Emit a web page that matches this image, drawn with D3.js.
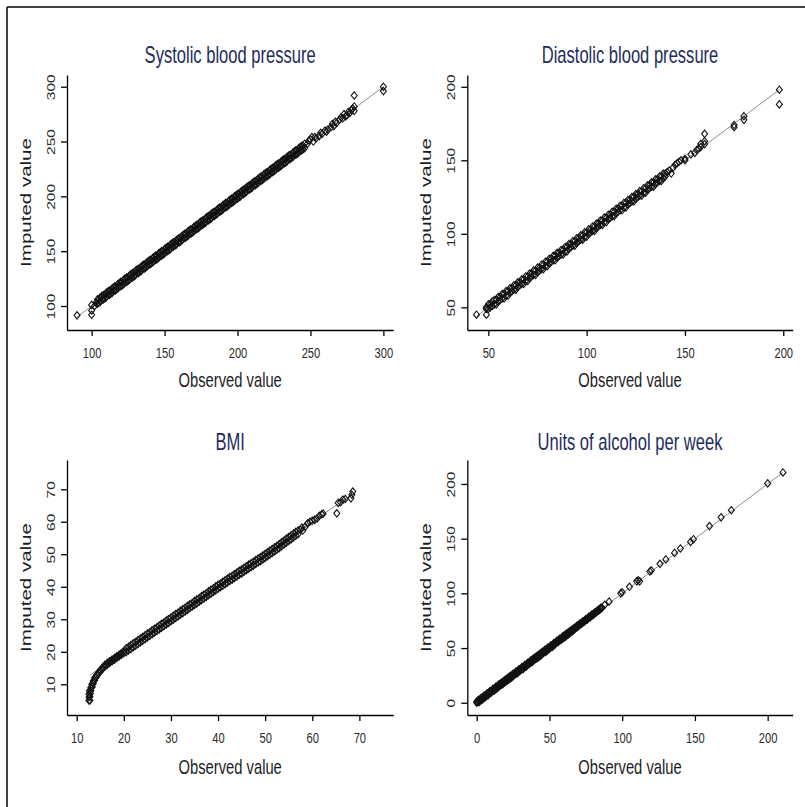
<!DOCTYPE html>
<html>
<head>
<meta charset="utf-8">
<script src="https://cdn.jsdelivr.net/npm/d3@7"></script>
<style>
body { margin: 0; background: #fff; }
svg { display: block; }
text { font-family: "Liberation Sans", Arial, sans-serif; }
</style>
</head>
<body>
<svg id="chart"></svg>
<script>

// dense parts: [observed, imputed draw 1, imputed draw 2]
// sparse parts: [observed, imputed]
var sbpDense = [
  [104,106,102],[105,106,103],[106,108,104],[107,109,106],[108,110,106],[109,110,107],[110,112,108],[111,113,110],[112,114,110],[113,114,111],
  [114,116,112],[115,117,114],[116,118,114],[117,118,115],[118,120,116],[119,121,118],[120,122,118],[121,122,119],[122,124,120],[123,125,122],
  [124,126,122],[125,126,123],[126,128,124],[127,129,126],[128,130,126],[129,130,127],[130,132,128],[131,133,130],[132,134,130],[133,134,131],
  [134,136,132],[135,137,134],[136,138,134],[137,138,135],[138,140,136],[139,141,138],[140,142,138],[141,142,139],[142,144,140],[143,145,142],
  [144,146,142],[145,146,143],[146,148,144],[147,149,146],[148,150,146],[149,150,147],[150,152,148],[151,153,150],[152,154,150],[153,154,151],
  [154,156,152],[155,157,154],[156,158,154],[157,158,155],[158,160,156],[159,161,158],[160,162,158],[161,162,159],[162,164,160],[163,165,162],
  [164,166,162],[165,166,163],[166,168,164],[167,169,166],[168,170,166],[169,170,167],[170,172,168],[171,173,170],[172,174,170],[173,174,171],
  [174,176,172],[175,177,174],[176,178,174],[177,178,175],[178,180,176],[179,181,178],[180,182,178],[181,182,179],[182,184,180],[183,185,182],
  [184,186,182],[185,186,183],[186,188,184],[187,189,186],[188,190,186],[189,190,187],[190,192,188],[191,193,190],[192,194,190],[193,194,191],
  [194,196,192],[195,197,194],[196,198,194],[197,198,195],[198,200,196],[199,201,198],[200,202,198],[201,202,199],[202,204,200],[203,205,202],
  [204,206,202],[205,206,203],[206,208,204],[207,209,206],[208,210,206],[209,210,207],[210,212,208],[211,213,210],[212,214,210],[213,214,211],
  [214,216,212],[215,217,214],[216,218,214],[217,218,215],[218,220,216],[219,221,218],[220,222,218],[221,222,219],[222,224,220],[223,225,222],
  [224,226,222],[225,226,223],[226,228,224],[227,229,226],[228,230,226],[229,230,227],[230,232,228],[231,233,230],[232,234,230],[233,234,231],
  [234,236,232],[235,237,234],[236,238,234],[237,238,235],[238,240,236],[239,241,238],[240,242,238],[241,242,239],[242,244,240],[243,245,242],
  [244,246,242],[245,246,243],[246,248,244]
];
var sbpSparse = [
  [90,91.5],[100,101],[100,96],[100,92],[102,100],[103,103],
  [248,248],[249,251],[250,252],[251,254],[252,250],[253,254],[254,253],[256,255],[257,258],[258,257],[260,260],[261,259],
  [262,261],[264,263],[265,266],[266,264],[267,268],[268,267],[270,270],[271,272],[272,271],[273,275],[274,273],[275,274],
  [276,277],[277,276],[278,279],[279,280],[280,282],[280,278],[280,292],[300,300],[300,296]
];
var sbpLine = [[90,90],[300,300]];

var dbpDense = [
  [50,52,49],[51,52,50],[52,54,51],[53,55,52],[54,55,52],[55,57,54],[56,57,55],[57,59,56],[58,59,56],[59,61,58],
  [60,61,58],[61,63,60],[62,63,61],[63,65,62],[64,65,62],[65,67,64],[66,67,65],[67,69,66],[68,69,66],[69,71,68],
  [70,71,68],[71,73,70],[72,73,71],[73,75,72],[74,75,72],[75,77,74],[76,77,75],[77,79,76],[78,79,76],[79,81,78],
  [80,81,78],[81,83,80],[82,83,81],[83,85,82],[84,85,82],[85,87,84],[86,87,85],[87,89,86],[88,89,86],[89,91,88],
  [90,91,88],[91,93,90],[92,93,91],[93,95,92],[94,95,92],[95,97,94],[96,97,95],[97,99,96],[98,99,96],[99,101,98],
  [100,101,98],[101,103,100],[102,103,101],[103,105,102],[104,105,102],[105,107,104],[106,107,105],[107,109,106],[108,109,106],[109,111,108],
  [110,111,108],[111,113,110],[112,113,111],[113,115,112],[114,115,112],[115,117,114],[116,117,115],[117,119,116],[118,119,116],[119,121,118],
  [120,121,118],[121,123,120],[122,123,121],[123,125,122],[124,125,122],[125,127,124],[126,127,125],[127,129,126],[128,129,126],[129,131,128],
  [130,131,128],[131,133,130],[132,133,131],[133,135,132],[134,135,132],[135,137,134],[136,137,135],[137,139,136],[138,139,136],[139,141,138],
  [140,141,139]
];
var dbpSparse = [
  [44,45],[49,45],[49,49],[49,50],
  [141,142],[142,143],[143,141],[144,145],[145,147],[146,148],[147,149],[148,150],[150,151],[150,150],
  [153,154],[155,155],[156,157],[157,158],[158,159],[158,161],[160,161],[160,163],[160,168],
  [175,174],[175,172.5],[180,180],[180,177.5],[198,198],[198,188]
];
var dbpLine = [[44,44],[198,198]];

var bmiDense = [
  [20.5,21.1,19.9],[21,21.5,20.4],[21.5,22.1,20.9],[22,22.6,21.4],[22.5,23,21.9],[23,23.6,22.4],[23.5,24.1,22.9],[24,24.5,23.4],[24.5,25.1,23.9],[25,25.6,24.4],
  [25.5,26,24.9],[26,26.6,25.4],[26.5,27.1,25.9],[27,27.5,26.4],[27.5,28.1,26.9],[28,28.6,27.4],[28.5,29,27.9],[29,29.6,28.4],[29.5,30.1,28.9],[30,30.5,29.4],
  [30.5,31.1,29.9],[31,31.6,30.4],[31.5,32,30.9],[32,32.6,31.4],[32.5,33.1,31.9],[33,33.5,32.4],[33.5,34.1,32.9],[34,34.6,33.4],[34.5,35,33.9],[35,35.6,34.4],
  [35.5,36.1,34.9],[36,36.5,35.4],[36.5,37.1,35.9],[37,37.6,36.4],[37.5,38,36.9],[38,38.6,37.4],[38.5,39.1,37.9],[39,39.5,38.4],[39.5,40.1,38.9],[40,40.6,39.4],
  [40.5,41,39.9],[41,41.5,40.3],[41.5,42,40.8],[42,42.5,41.3],[42.5,43,41.8],[43,43.4,42.2],[43.5,43.9,42.7],[44,44.4,43.2],[44.5,44.9,43.7],[45,45.3,44.1],
  [45.5,45.8,44.6],[46,46.3,45.1],[46.5,46.8,45.6],[47,47.2,46],[47.5,47.7,46.5],[48,48.2,47],[48.5,48.7,47.5],[49,49.1,47.9],[49.5,49.6,48.4],[50,50.1,48.9],
  [50.5,50.6,49.4],[51,51.1,49.9],[51.5,51.6,50.4],[52,52.1,50.9],[52.5,52.6,51.4],[53,53.1,51.9],[53.5,53.7,52.5],[54,54.2,53],[54.5,54.8,53.6],[55,55.3,54.1],
  [55.5,55.8,54.6],[56,56.4,55.2],[56.5,56.9,55.7],[57,57.3,56.2]
];
var bmiSparse = [
  [12.6,5],[12.8,5],[12.6,6],[12.8,6.2],[12.6,7],[12.9,7.2],[12.7,8],[13,8],[13,9],[13.3,9.2],[13.2,10],[13.5,10.2],
  [13.5,11],[13.8,11.2],[13.8,12],[14.1,12.1],[14.2,12.8],[14.5,13],[14.6,13.6],[15,13.9],[15,14.4],[15.5,14.7],
  [15.5,15.2],[16,15.5],[16,16],[16.5,16],[16.5,16.6],[17,16.6],[17,17.1],[17.5,17.1],[17.5,17.6],[18,17.6],
  [18,18.1],[18.5,18.1],[18.5,18.6],[19,18.6],[19,19.1],[19.5,19.1],[19.5,19.6],[20,19.6],[20,20.2],
  [57.5,57.5],[58,57.3],[57.8,58.2],[58.5,58.5],[59,59.5],[59.5,60],[60,60.3],[60.5,60.6],[61,61],
  [61.5,61.8],[62,62.3],[62.3,62.5],[65.2,62.6],[65.5,65.8],[66,66],[66.5,66.8],[67,67],
  [68.6,69.3],[68.4,68.3],[68.2,67.2]
];
var bmiLine = [[12.8,12.8],[68.5,68.5]];

var alcDense = [
  [0,1,0],[1,2.5,0.5],[2,3,1],[3,4.5,2.5],[4,5,3],[5,6.5,4.5],[6,7,5],[7,8.5,6.5],[8,9,7],[9,10.5,8.5],
  [10,11,9.5],[11,12.5,10.5],[12,13,11],[13,14.5,12.5],[14,15,13],[15,16.5,14.5],[16,17,15.5],[17,18.5,16.5],[18,19,17],[19,20.5,18.5],
  [20,21,19.5],[21,22.5,20.5],[22,23,21],[23,24.5,22.5],[24,25,23],[25,26.5,24.5],[26,27,25.5],[27,28.5,26.5],[28,29,27],[29,30.5,28.5],
  [30,31,29.5],[31,32.5,30.5],[32,33,31],[33,34.5,32.5],[34,35,33],[35,36.5,34.5],[36,37,35.5],[37,38.5,36.5],[38,39,37],[39,40.5,38.5],
  [40,41,39.5],[41,42.5,40.5],[42,43,41],[43,44.5,42.5],[44,45,43],[45,46.5,44.5],[46,47,45.5],[47,48.5,46.5],[48,49,47],[49,50.5,48.5],
  [50,51,49.5],[51,52.5,50.5],[52,53,51],[53,54.5,52.5],[54,55,53.5],[55,56.5,55],[56,57,55.5],[57,58.5,57],[58,59,57.5],[59,60.5,58.5],
  [60,61.5,59.5],[61,62.5,60.5],[62,63,61.5],[63,64.5,62.5],[64,65,63.5],[65,66.5,65],[66,67,65.5],[67,68.5,67],[68,69,68],[69,70.5,69],
  [70,71,70],[71,72.5,71.5],[72,73,72],[73,74.5,73.5],[74,75,74],[75,76.5,75.5],[76,77,76],[77,78.5,77.5],[78,79,78],[79,80.5,79.5],
  [80,81,80],[81,82.5,81.5],[82,83,82.5],[83,84.5,83.5],[84,85,84.5],[85,86.5,85.5],[86,87,86.5]
];
var alcSparse = [
  [88,89.5],[91,92.4],[99,100],[100,101],[105,106],[110,111],[111,112],[112,111],[119,120],[120,121],
  [126,127],[130,131],[136,137],[140,141],[147,147],[149,149.5],[160,161.5],[168,169.5],[175,176],
  [200,200.5],[210.5,210.5]
];
var alcLine = [[0,0],[210.5,210.5]];

var titles = ["Systolic blood pressure", "Diastolic blood pressure", "BMI", "Units of alcohol per week"];
var xTickVals = [[100,150,200,250,300], [50,100,150,200], [10,20,30,40,50,60,70], [0,50,100,150,200]];
var yTickVals = [[100,150,200,250,300], [50,100,150,200], [10,20,30,40,50,60,70], [0,50,100,150,200]];
var xDomains = [[83.1,306.8], [39.3,204.8], [7.94,77.2], [-6.46,217.2]];
var yDomains = [[78.1,310.7], [34.6,208], [0.55,79], [-11.2,221.9]];

var W = 805, H = 807;
var squash = 0.72;   // the picture is compressed sideways

var svg = d3.select("#chart").attr("width", W).attr("height", H);

// frame, only top and left sides show
svg.append("line").attr("x1", 7).attr("y1", 7).attr("x2", W).attr("y2", 7)
  .attr("stroke", "#000").attr("stroke-width", 1.5);
svg.append("line").attr("x1", 7).attr("y1", 7).attr("x2", 7).attr("y2", H)
  .attr("stroke", "#000").attr("stroke-width", 1.5);

var layout = [
  {left: 67,    right: 393.3, top: 75,  bottom: 330, titleY: 63,  labelY: 387},
  {left: 467.3, right: 792.7, top: 75,  bottom: 330, titleY: 63,  labelY: 387},
  {left: 67,    right: 393.3, top: 460, bottom: 715, titleY: 450, labelY: 774},
  {left: 467.3, right: 792.7, top: 460, bottom: 715, titleY: 450, labelY: 774}
];

var allDense = [sbpDense, dbpDense, bmiDense, alcDense];
var allSparse = [sbpSparse, dbpSparse, bmiSparse, alcSparse];
var allLines = [sbpLine, dbpLine, bmiLine, alcLine];

// each dense row holds two imputed draws for one observed value
var toPoints = function(dense, sparse)
{
  var pts = [];
  dense.forEach(function(r)
  {
    pts.push([r[0], r[1]]);
    pts.push([r[0], r[2]]);
  });
  return pts.concat(sparse);
}

var diamond = "M0,-3.7L3,0L0,3.7L-3,0Z";

layout.forEach(function(p, i)
{
  var x = d3.scaleLinear().domain(xDomains[i]).range([p.left, p.right]);
  var y = d3.scaleLinear().domain(yDomains[i]).range([p.bottom, p.top]);
  var g = svg.append("g");
  var cx = (p.left + p.right) / 2;
  var cy = (p.top + p.bottom) / 2;

  // 45 degree reference line
  g.append("path")
    .datum(allLines[i])
    .attr("d", d3.line().x(function(d) { return x(d[0]); }).y(function(d) { return y(d[1]); }))
    .attr("fill", "none")
    .attr("stroke", "#808080")
    .attr("stroke-width", 0.9);

  g.selectAll("path.pt")
    .data(toPoints(allDense[i], allSparse[i]))
    .enter()
    .append("path")
    .attr("class", "pt")
    .attr("d", diamond)
    .attr("transform", function(d) { return "translate(" + x(d[0]) + "," + y(d[1]) + ")"; })
    .attr("fill", "none")
    .attr("stroke", "#111")
    .attr("stroke-width", 1.1);

  var xAxis = g.append("g")
    .attr("transform", "translate(0," + p.bottom + ")")
    .call(d3.axisBottom(x).tickValues(xTickVals[i]).tickSize(6).tickSizeOuter(0));
  xAxis.selectAll("text")
    .attr("y", 28.5).attr("dy", 0)
    .attr("font-size", 15.5)
    .attr("fill", "#2a2a2a")
    .attr("transform", "scale(" + squash + ",1)");

  var yAxis = g.append("g")
    .attr("transform", "translate(" + p.left + ",0)")
    .call(d3.axisLeft(y).tickValues(yTickVals[i]).tickSize(6).tickSizeOuter(0));
  yAxis.selectAll("text")
    .attr("x", 0).attr("y", 0).attr("dy", 0)
    .attr("text-anchor", "middle")
    .attr("font-size", 15.5)
    .attr("fill", "#2a2a2a")
    .attr("transform", "translate(-12,0) scale(" + squash + ",1) rotate(-90)");

  g.selectAll(".domain, .tick line").attr("stroke", "#000").attr("stroke-width", 1.3);
  g.selectAll(".tick text").attr("font-family", "Liberation Sans, Arial, sans-serif");

  g.append("text")
    .attr("transform", "translate(" + cx + "," + p.titleY + ") scale(" + squash + ",1)")
    .attr("text-anchor", "middle")
    .attr("font-size", 23)
    .attr("fill", "#1e2c5c")
    .text(titles[i]);

  g.append("text")
    .attr("transform", "translate(" + cx + "," + p.labelY + ") scale(" + squash + ",1)")
    .attr("text-anchor", "middle")
    .attr("font-size", 20.5)
    .attr("fill", "#1c1c24")
    .text("Observed value");

  g.append("text")
    .attr("transform", "translate(" + (p.left - 36) + "," + cy + ") scale(" + squash + ",1) rotate(-90)")
    .attr("text-anchor", "middle")
    .attr("font-size", 20.5)
    .attr("fill", "#1c1c24")
    .text("Imputed value");
});

</script>
</body>
</html>
